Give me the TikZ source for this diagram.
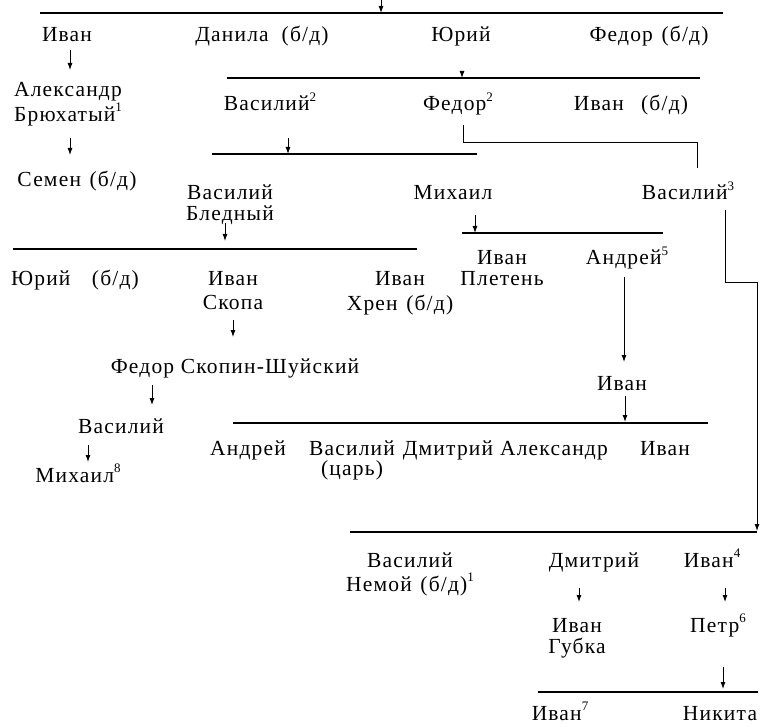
\documentclass[tikz,border=0pt]{standalone}
\usepackage{fontspec}
\setmainfont[LetterSpace=5.5]{Liberation Serif}
\usetikzlibrary{arrows.meta}
\newcommand\fn[1]{\raisebox{0.45em}{\fontsize{13}{13}\selectfont #1}}
\newcommand\two[3][0pt]{\begin{tabular}[t]{@{}c@{}}#2\\[#1]#3\end{tabular}}
\begin{document}
\begin{tikzpicture}[x=1pt,y=-1pt,
  every node/.style={inner sep=0pt,anchor=base,font=\fontsize{21.5}{20}\selectfont},
  famline/.style={line width=1.1pt},
  conn/.style={line width=1pt},
  arr/.style={line width=0.9pt,-{Latex[length=7pt,width=5pt]}}]
\useasboundingbox (0,0) rectangle (760,727);
% persons
\node (ivanA) at (67,42) {Иван};
\node (danila) at (262,42) {Данила\hspace{0.6em}(б/д)};
\node (yuriA) at (461,42) {Юрий};
\node (fedorA) at (649,42) {Федор\hspace{0.4em}(б/д)};
\node (aleks) at (68,97) {\two{Александр}{Брюхатый\fn{1}}};
\node (semen) at (77,187) {Семен\hspace{0.4em}(б/д)};
\node (vas2) at (270,111) {Василий\fn{2}};
\node (fed2) at (458,111) {Федор\fn{2}};
\node (ivanbd) at (631,111) {Иван\hspace{0.8em}(б/д)};
\node (vasbl) at (230,200) {\two{Василий}{Бледный}};
\node (mikh) at (453,200) {Михаил};
\node (vas3) at (688,200) {Василий\fn{3}};
\node (yuriB) at (75,285) {Юрий\hspace{1em}(б/д)};
\node (ivsk) at (233,285) {\two[4pt]{Иван}{Скопа}};
\node (ivkh) at (400,285) {\two[4pt]{Иван}{Хрен\hspace{0.4em}(б/д)}};
\node (ivpl) at (502,265) {\two{Иван}{Плетень}};
\node (andr5) at (627,265) {Андрей\fn{5}};
\node (fedsk) at (235,373) {Федор Скопин-Шуйский};
\node (ivanC) at (622,390) {Иван};
\node (vasD) at (121,433) {Василий};
\node (mikh8) at (78,482) {Михаил\fn{8}};
\node (andrE) at (248,455) {Андрей};
\node (vastsar) at (352,455) {\two{Василий}{(царь)}};
\node (dmE) at (448,455) {Дмитрий};
\node (alE) at (554,455) {Александр};
\node (ivE) at (665,455) {Иван};
\node (vasnem) at (410,567) {\two{Василий}{Немой\hspace{0.4em}(б/д)\fn{1}}};
\node (dmF) at (594,567) {Дмитрий};
\node (iv4) at (712,567) {Иван\fn{4}};
\node (ivgub) at (577,632) {\two{Иван}{Губка}};
\node (petr6) at (718,632) {Петр\fn{6}};
\node (iv7) at (560,720) {Иван\fn{7}};
\node (nikita) at (720,720) {Никита};
% family lines
\coordinate (L1a) at (40,13);  \coordinate (L1b) at (723,13);
\coordinate (L2a) at (227,78); \coordinate (L2b) at (700,78);
\coordinate (L3a) at (212,154); \coordinate (L3b) at (477,154);
\coordinate (L4a) at (13,249); \coordinate (L4b) at (417,249);
\coordinate (L5a) at (462,233); \coordinate (L5b) at (663,233);
\coordinate (L6a) at (233,423); \coordinate (L6b) at (708,423);
\coordinate (L7a) at (350,532); \coordinate (L7b) at (757,532);
\coordinate (L8a) at (538,692); \coordinate (L8b) at (758,692);
\foreach \l in {1,...,8} {\draw[famline] (L\l a) -- (L\l b);}
% arrow targets on lines
\coordinate (topin) at (381,0);
\coordinate (c1) at (381,13);
\coordinate (c2) at (462,78);
\coordinate (c3) at (288,154);
\coordinate (c4) at (225,241);
\coordinate (c5) at (475,233);
\coordinate (c6) at (625,422);
\coordinate (c7) at (757,531);
\coordinate (c8) at (723,689);
% arrows
\draw[arr] (topin) -- (c1);
\draw[arr] ([xshift=3pt,yshift=-8pt]ivanA.base) -- ([xshift=2pt,yshift=27pt]aleks.base);
\draw[arr] ([xshift=2pt,yshift=-41pt]aleks.base) -- ([xshift=-7pt,yshift=32pt]semen.base);
\draw[arr] ([xshift=1pt,yshift=-29pt]yuriA.base) -- (c2);
\draw[arr] ([xshift=18pt,yshift=-27pt]vas2.base) -- (c3);
\draw[arr] ([xshift=-5pt,yshift=-23pt]vasbl.base) -- (c4);
\draw[arr] ([xshift=22pt,yshift=-15pt]mikh.base) -- (c5);
\draw[arr] ([xshift=-3pt,yshift=-12pt]andr5.base) -- ([xshift=2pt,yshift=28pt]ivanC.base);
\draw[arr] ([yshift=-35pt]ivsk.base) -- ([xshift=-2pt,yshift=36pt]fedsk.base);
\draw[arr] ([xshift=-83pt,yshift=-12pt]fedsk.base) -- ([xshift=31pt,yshift=28pt]vasD.base);
\draw[arr] ([xshift=-33pt,yshift=-12pt]vasD.base) -- ([xshift=10pt,yshift=20pt]mikh8.base);
\draw[arr] ([xshift=3pt,yshift=-6pt]ivanC.base) -- (c6);
\draw[arr] ([xshift=-15pt,yshift=-21pt]dmF.base) -- ([xshift=2pt,yshift=30pt]ivgub.base);
\draw[arr] ([xshift=13pt,yshift=-21pt]iv4.base) -- ([xshift=7pt,yshift=30pt]petr6.base);
\draw[arr] ([xshift=5pt,yshift=-35pt]petr6.base) -- (c8);
% connectors
\draw[conn] ([xshift=5pt,yshift=-14pt]fed2.base) -- ++(0,18) -| ([xshift=9pt,yshift=32pt]vas3.base);
\draw[arr] ([xshift=37pt,yshift=-10pt]vas3.base) -- ++(0,72) -- ++(32,0) -- (c7);
\end{tikzpicture}
\end{document}
